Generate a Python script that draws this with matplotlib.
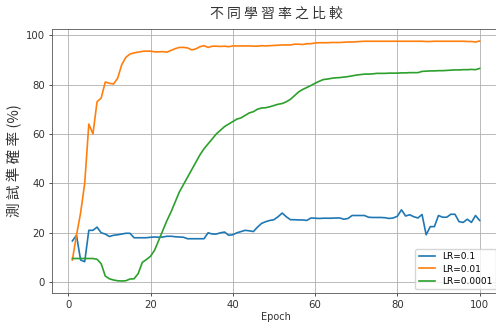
import numpy as np
import matplotlib
matplotlib.use("Agg")
import matplotlib.pyplot as plt

plt.rcParams['font.family'] = ['DejaVu Sans', 'Noto Sans CJK TC']

# epochs 1..100
epochs = list(range(1, 101))

# LR=0.1
acc_lr_0_1 = [
    16.7, 19.0, 9.0, 8.3, 21.0, 21.0, 22.3, 20.0, 19.5, 18.5,
    19.0, 19.2, 19.5, 19.8, 19.8, 18.0, 18.0, 18.0, 18.0, 18.2,
    18.3, 18.2, 18.3, 18.6, 18.6, 18.4, 18.3, 18.2, 17.6, 17.6,
    17.6, 17.6, 17.6, 20.0, 19.5, 19.5, 20.0, 20.3, 19.0, 19.2,
    20.0, 20.5, 21.0, 20.8, 20.5, 22.3, 23.8, 24.5, 25.0, 25.3,
    26.5, 28.0, 26.5, 25.3, 25.3, 25.2, 25.2, 25.0, 26.0, 25.9,
    25.8, 25.9, 25.9, 25.9, 26.0, 26.0, 25.5, 25.8, 27.0, 27.0,
    27.0, 27.0, 26.3, 26.2, 26.2, 26.2, 26.1, 25.8, 26.0, 26.7,
    29.3, 26.8, 27.3, 26.5, 26.0, 27.4, 19.2, 22.5, 22.5, 27.0,
    26.3, 26.3, 27.5, 27.5, 24.5, 24.2, 25.5, 24.2, 27.0, 25.0,
]

# LR=0.01
acc_lr_0_01 = [
    9.0, 19.0, 28.0, 40.0, 64.0, 60.0, 73.0, 74.5, 81.0, 80.5,
    80.2, 82.5, 88.0, 91.0, 92.3, 92.8, 93.1, 93.4, 93.5, 93.5,
    93.2, 93.2, 93.3, 93.1, 93.8, 94.5, 95.0, 95.0, 94.8, 94.0,
    94.4, 95.3, 95.7, 95.0, 95.5, 95.5, 95.4, 95.5, 95.3, 95.6,
    95.6, 95.6, 95.6, 95.6, 95.5, 95.5, 95.7, 95.6, 95.7, 95.8,
    95.9, 96.0, 96.0, 96.0, 96.3, 96.3, 96.2, 96.5, 96.5, 96.8,
    96.9, 96.9, 96.9, 97.0, 97.0, 97.0, 97.1, 97.2, 97.2, 97.3,
    97.4, 97.5, 97.5, 97.5, 97.5, 97.5, 97.5, 97.5, 97.5, 97.5,
    97.5, 97.5, 97.5, 97.5, 97.5, 97.5, 97.4, 97.4, 97.5, 97.5,
    97.5, 97.5, 97.5, 97.5, 97.5, 97.5, 97.4, 97.4, 97.2, 97.6,
]

# LR=0.0001
acc_lr_0_0001 = [
    9.6, 9.6, 9.6, 9.6, 9.6, 9.6, 9.3, 7.5, 2.5, 1.4,
    0.9, 0.6, 0.5, 0.6, 1.3, 1.4, 3.5, 8.0, 9.2, 10.5,
    13.0, 17.0, 21.0, 25.0, 28.5, 32.5, 36.5, 39.5, 42.5, 45.5,
    48.5, 51.5, 54.0, 56.0, 58.0, 60.0, 61.5, 63.0, 64.0, 65.0,
    66.0, 66.5, 67.5, 68.5, 69.0, 70.0, 70.5, 70.6, 71.0, 71.5,
    72.0, 72.3, 73.0, 74.0, 75.5, 77.0, 78.0, 78.8, 79.6, 80.5,
    81.3, 82.0, 82.2, 82.5, 82.7, 82.8, 83.0, 83.2, 83.5, 83.8,
    84.0, 84.2, 84.2, 84.3, 84.5, 84.5, 84.5, 84.6, 84.6, 84.6,
    84.7, 84.7, 84.8, 84.8, 84.8, 85.3, 85.4, 85.5, 85.5, 85.6,
    85.6, 85.7, 85.8, 85.9, 85.9, 86.0, 86.0, 86.1, 86.0, 86.5,
]

series = [
    ('LR=0.1', acc_lr_0_1),
    ('LR=0.01', acc_lr_0_01),
    ('LR=0.0001', acc_lr_0_0001),
]

fig = plt.figure(figsize=(4.96, 3.23), dpi=100)
ax = fig.add_axes([52 / 496, 30 / 323, 448 / 496, 264 / 323])

for label, vals in series:
    ax.plot(epochs, vals, label=label, linewidth=1.2)

ax.grid(True, linewidth=0.6)
ax.set_xticks([0, 20, 40, 60, 80, 100])
ax.set_yticks([0, 20, 40, 60, 80, 100])
ax.tick_params(labelsize=7.3, length=2.5, width=0.6, pad=2.5, colors='#333333')
for sp in ax.spines.values():
    sp.set_linewidth(0.6)
    sp.set_color('#555555')

ax.set_title('不 同 學 習 率 之 比 較', family=['Noto Sans CJK TC', 'DejaVu Sans'],
             fontsize=10, pad=8, color='#333333')
ax.set_xlabel('Epoch', fontsize=7, labelpad=1.5, color='#333333')
ax.set_ylabel('測 試 準 確 率 (%)', family=['Noto Sans CJK TC', 'DejaVu Sans'],
              fontsize=10.5, labelpad=3, color='#333333')
ax.legend(loc='lower right', fontsize=6.5, borderaxespad=0.4,
          handlelength=1.8, borderpad=0.4, labelspacing=0.35)

fig.savefig('out.png', dpi=100)
